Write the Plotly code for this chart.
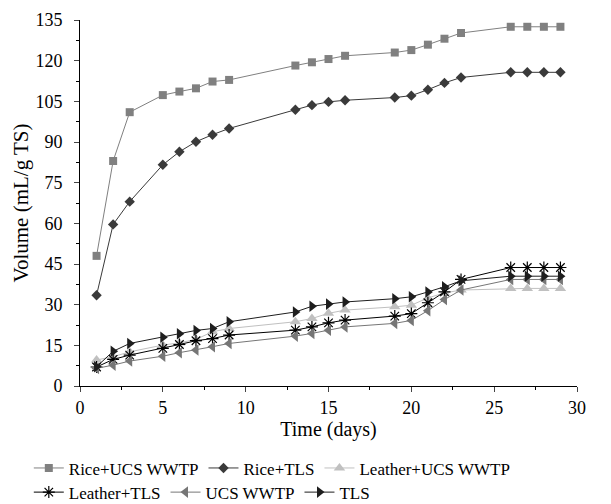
import plotly.graph_objects as go

days = [1, 2, 3, 5, 6, 7, 8, 9, 13, 14, 15, 16, 19, 20, 21, 22, 23, 26, 27, 28, 29]

rice_ucs = [48, 83, 101, 107.3, 108.6, 109.8, 112.3, 112.9, 118.2, 119.4, 120.6, 121.8,
            123.0, 123.9, 125.9, 128.1, 130.2, 132.5, 132.5, 132.5, 132.5]
rice_tls = [33.5, 59.6, 68, 81.6, 86.4, 90.1, 92.7, 95.0, 101.9, 103.6, 104.8, 105.4,
            106.4, 107.1, 109.3, 111.8, 113.8, 115.7, 115.7, 115.7, 115.7]
leather_ucs = [9.6, 10.8, 12.6, 15.1, 15.9, 17.2, 20.0, 21.2, 23.7, 24.9, 26.8, 28.0,
               29.2, 29.8, 32.5, 34.3, 35.4, 36.0, 36.0, 36.0, 36.0]
leather_tls = [7.0, 9.8, 11.4, 13.9, 15.3, 16.7, 17.5, 18.8, 20.6, 21.8, 23.3, 24.3,
               25.8, 26.7, 30.7, 34.7, 39.3, 43.7, 43.7, 43.7, 43.7]
ucs_wwtp = [6.5, 7.7, 9.2, 11.0, 12.3, 13.3, 14.5, 15.7, 18.4, 19.4, 20.6, 21.8,
            23.1, 24.2, 27.8, 31.9, 35.4, 39.3, 39.3, 39.3, 39.3]
tls = [7.1, 12.8, 15.7, 18.0, 19.3, 20.5, 21.2, 23.7, 27.3, 29.4, 30.2, 31.0,
       32.2, 32.9, 34.7, 36.6, 38.8, 40.5, 40.5, 40.5, 40.5]

x_ticks = [0, 5, 10, 15, 20, 25, 30]
y_ticks = [0, 15, 30, 45, 60, 75, 90, 105, 120, 135]

FONT = "Liberation Serif, Times New Roman, serif"

series = [
    ("Rice+UCS WWTP", rice_ucs, "#808080", "square", 8, "legend"),
    ("Rice+TLS", rice_tls, "#3a3a3a", "diamond", 8, "legend"),
    ("Leather+UCS WWTP", leather_ucs, "#c0c0c0", "triangle-up", 10, "legend"),
    ("Leather+TLS", leather_tls, "#000000", "asterisk-open", 10, "legend2"),
    ("UCS WWTP", ucs_wwtp, "#767676", "triangle-left", 10, "legend2"),
    ("TLS", tls, "#1e1e1e", "triangle-right", 10, "legend2"),
]

fig = go.Figure()
for name, vals, color, sym, size, lg in series:
    marker = dict(symbol=sym, size=size, color=color)
    if sym == "asterisk-open":
        marker["line"] = dict(color=color, width=1.2)
    fig.add_trace(go.Scatter(
        x=days, y=vals, name=name, mode="lines+markers",
        line=dict(color=color, width=1), marker=marker, legend=lg,
    ))

fig.update_layout(
    width=611, height=504,
    margin=dict(l=80, r=34, t=20, b=118, autoexpand=False),
    plot_bgcolor="white", paper_bgcolor="white",
    font=dict(family=FONT, size=18, color="black"),
    legend=dict(orientation="h", x=-0.103, y=-0.176, xanchor="left", yanchor="top",
                font=dict(family=FONT, size=17), itemwidth=30, tracegroupgap=0,
                bgcolor="rgba(0,0,0,0)"),
    legend2=dict(orientation="h", x=-0.103, y=-0.242, xanchor="left", yanchor="top",
                 font=dict(family=FONT, size=17), itemwidth=30, tracegroupgap=0,
                 bgcolor="rgba(0,0,0,0)"),
    xaxis=dict(range=[0, 30], tickvals=x_ticks, ticks="outside", ticklen=5,
               showline=True, linecolor="black", linewidth=1, showgrid=False,
               zeroline=False, mirror=False, tickfont=dict(family=FONT, size=18),
               minor=dict(dtick=2.5, tick0=0, ticks="outside", ticklen=3, tickcolor="black"),
               title=dict(text="Time (days)", font=dict(family=FONT, size=20), standoff=5)),
    yaxis=dict(range=[0, 135], tickvals=y_ticks, ticks="outside", ticklen=5,
               showline=True, linecolor="black", linewidth=1, showgrid=False,
               zeroline=False, mirror=False, tickfont=dict(family=FONT, size=18),
               ticklabelstandoff=8,
               minor=dict(dtick=7.5, tick0=0, ticks="outside", ticklen=3, tickcolor="black"),
               title=dict(text="Volume (mL/g TS)", font=dict(family=FONT, size=21), standoff=1)),
)

fig.write_html("out.html", config={"displayModeBar": False},
               post_script="document.body.style.margin='0';")
